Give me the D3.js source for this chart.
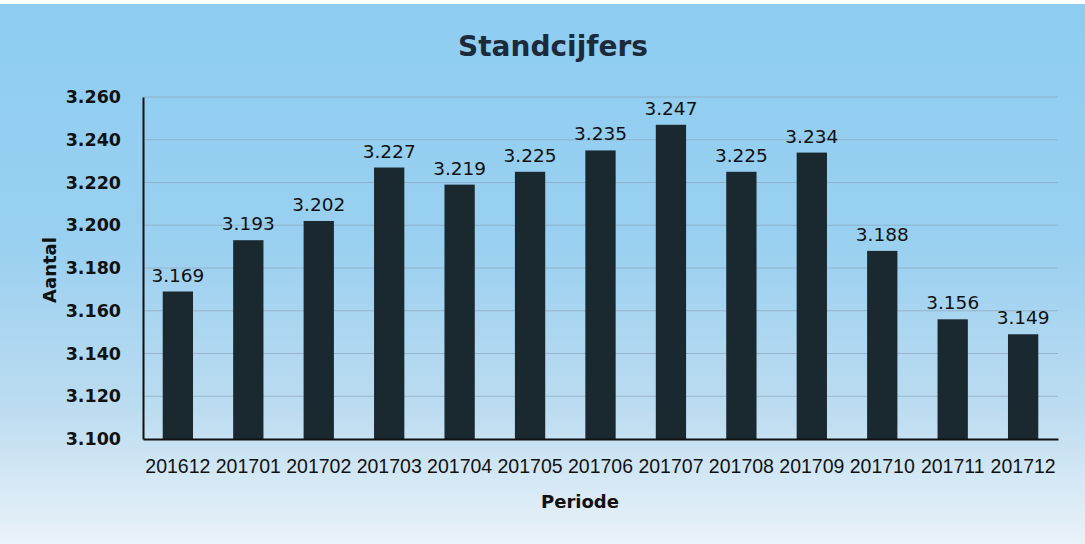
<!DOCTYPE html>
<html><head><meta charset="utf-8">
<script src="https://cdn.jsdelivr.net/npm/d3@7"></script>
<style>body{margin:0;background:#fff}svg{display:block}</style>
</head><body>
<script>
const categories = ["201612","201701","201702","201703","201704","201705","201706","201707","201708","201709","201710","201711","201712"];
const values = [3169,3193,3202,3227,3219,3225,3235,3247,3225,3234,3188,3156,3149];
const yTicks = [3100,3120,3140,3160,3180,3200,3220,3240,3260];
const title = "Standcijfers", xTitle = "Periode", yTitle = "Aantal";

const W = 1085, H = 544;
const m = {left:143, right:27, top:97, bottom:105};
const fmt = v => d3.format(",")(v).replace(",", ".");

const svg = d3.select("body").append("svg").attr("width", W).attr("height", H);
const defs = svg.append("defs");
const g1 = defs.append("linearGradient").attr("id","bg").attr("x1",0).attr("y1",0).attr("x2",0).attr("y2",1);
g1.append("stop").attr("offset","0%").attr("stop-color","#8dcdf1");
g1.append("stop").attr("offset","45%").attr("stop-color","#9ad0f0");
g1.append("stop").attr("offset","75%").attr("stop-color","#bcdcf0");
g1.append("stop").attr("offset","100%").attr("stop-color","#eaf2f9");
svg.append("rect").attr("x",0).attr("y",4).attr("width",W).attr("height",H-4).attr("fill","url(#bg)");

const x = d3.scaleBand().domain(categories).range([m.left, W - m.right]).paddingInner(0.57).paddingOuter(0.28);
const y = d3.scaleLinear().domain([3100, 3260]).range([H - m.bottom, m.top]);

// gridlines
svg.append("g").selectAll("line").data(yTicks.slice(1)).join("line")
  .attr("x1", m.left).attr("x2", W - m.right)
  .attr("y1", d => y(d)).attr("y2", d => y(d))
  .attr("stroke", "#8fa6bc").attr("stroke-width", 1).attr("opacity", 0.7);

// bars
svg.append("g").selectAll("rect").data(values).join("rect")
  .attr("x", (d,i) => x(categories[i]))
  .attr("width", x.bandwidth())
  .attr("y", d => y(d))
  .attr("height", d => y(3100) - y(d))
  .attr("fill", "#1a2830");

// value labels
svg.append("g").selectAll("text").data(values).join("text")
  .attr("x", (d,i) => x(categories[i]) + x.bandwidth()/2)
  .attr("y", d => y(d) - 10)
  .attr("text-anchor","middle")
  .attr("font-family","DejaVu Sans, Verdana, sans-serif")
  .attr("font-size", 18.5)
  .attr("fill","#111")
  .text(d => fmt(d));

// y axis
const ya = svg.append("g").attr("transform", `translate(${m.left},0)`)
  .call(d3.axisLeft(y).tickValues(yTicks).tickFormat(fmt).tickSize(0).tickPadding(22));
ya.select(".domain").attr("stroke","#111").attr("stroke-width",2);
ya.selectAll("text").attr("font-family","DejaVu Sans, Verdana, sans-serif").attr("font-weight","bold")
  .attr("font-size",17.5).attr("fill","#111");

// x axis
const xa = svg.append("g").attr("transform", `translate(0,${y(3100)})`)
  .call(d3.axisBottom(x).tickSize(0).tickPadding(20));
xa.select(".domain").attr("stroke","#111").attr("stroke-width",2);
xa.selectAll("text").attr("font-family","Liberation Sans, Arial, sans-serif")
  .attr("font-size",19.5).attr("fill","#111");

// titles
svg.append("text").attr("x", 553).attr("y", 56).attr("text-anchor","middle")
  .attr("font-family","DejaVu Sans, Verdana, sans-serif").attr("font-weight","bold")
  .attr("font-size",28).attr("fill","#1c2a3a").text(title);
svg.append("text").attr("x", 580).attr("y", 508).attr("text-anchor","middle")
  .attr("font-family","DejaVu Sans, Verdana, sans-serif").attr("font-weight","bold")
  .attr("font-size",18).attr("fill","#111").text(xTitle);
svg.append("text").attr("transform","translate(56,270) rotate(-90)").attr("text-anchor","middle")
  .attr("font-family","DejaVu Sans, Verdana, sans-serif").attr("font-weight","bold")
  .attr("font-size",18).attr("fill","#111").text(yTitle);
</script>
</body></html>
